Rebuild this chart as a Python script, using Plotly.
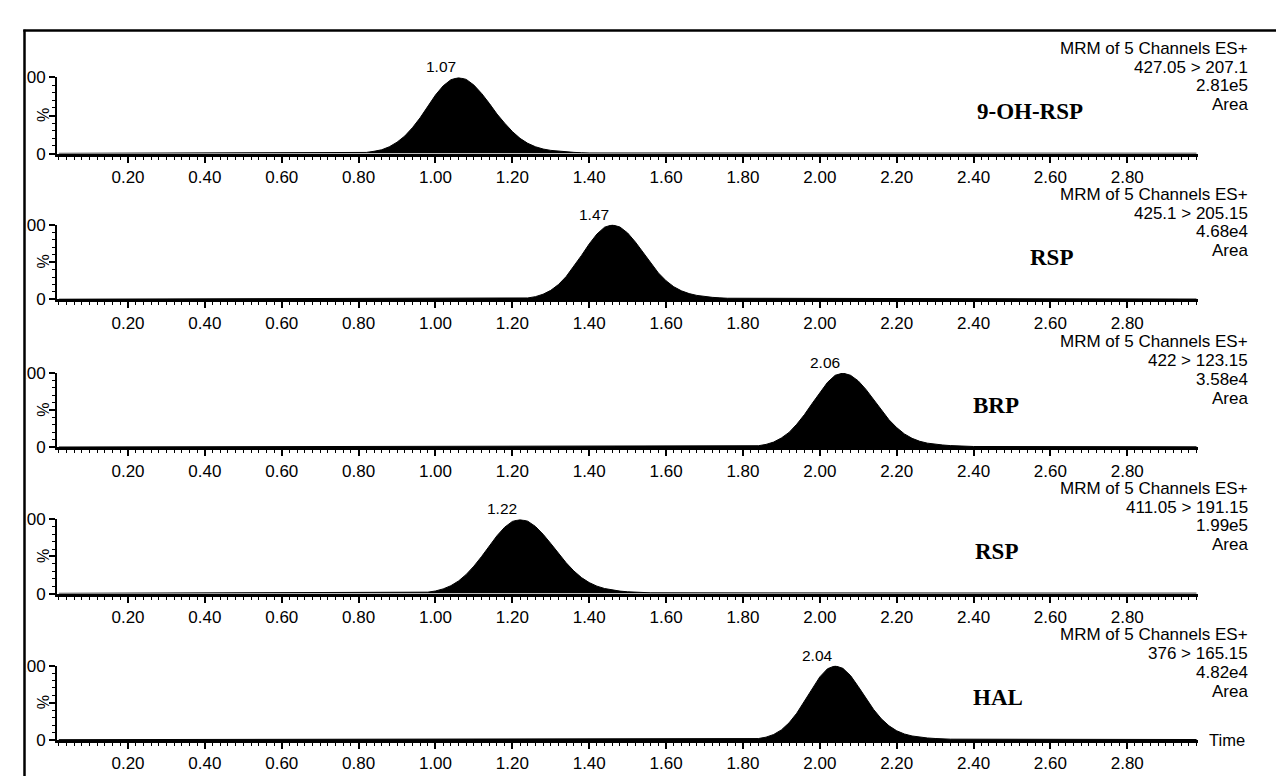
import plotly.graph_objects as go

W, H = 1284, 778

# ---------------- data ----------------
compounds = ["9-OH-RSP", "RSP", "BRP", "RSP", "HAL"]
transitions = ["427.05 > 207.1", "425.1 > 205.15", "422 > 123.15", "411.05 > 191.15", "376 > 165.15"]
abundances = ["2.81e5", "4.68e4", "3.58e4", "1.99e5", "4.82e4"]
peak_labels = ["1.07", "1.47", "2.06", "1.22", "2.04"]
header_text = "MRM of 5 Channels ES+"
area_text = "Area"
x_tick_vals = [0.1, 0.2, 0.3, 0.4, 0.5, 0.6, 0.7, 0.8, 0.9, 1.0, 1.1, 1.2, 1.3, 1.4,
               1.5, 1.6, 1.7, 1.8, 1.9, 2.0, 2.1, 2.2, 2.3, 2.4, 2.5, 2.6, 2.7, 2.8, 2.9]
x_tick_text = ["", "0.20", "", "0.40", "", "0.60", "", "0.80", "", "1.00", "", "1.20", "", "1.40",
               "", "1.60", "", "1.80", "", "2.00", "", "2.20", "", "2.40", "", "2.60", "", "2.80", ""]
y_tick_vals = [0, 50, 100]
y_tick_text = ["0", "", "100"]

t1 = [0.02, 0.80, 0.82, 0.84, 0.86, 0.88, 0.90, 0.92, 0.94, 0.96, 0.98, 1.00, 1.02, 1.04, 1.06,
      1.08, 1.10, 1.12, 1.14, 1.16, 1.18, 1.20, 1.22, 1.24, 1.26, 1.28, 1.30, 1.32, 1.34, 1.36,
      1.38, 1.40, 2.98]
i1 = [0.3, 0.8, 1.5, 3, 5, 9, 15, 23, 34, 47, 62, 77, 89, 97, 100,
      97.5, 90, 79, 66, 52, 40, 29, 20, 13.5, 9, 6, 4.2, 3, 2.2, 1.6,
      1.1, 0.8, 0.4]

t2 = [0.02, 1.22, 1.24, 1.26, 1.28, 1.30, 1.32, 1.34, 1.36, 1.38, 1.40, 1.42, 1.44, 1.46,
      1.48, 1.50, 1.52, 1.54, 1.56, 1.58, 1.60, 1.62, 1.64, 1.66, 1.68, 1.70, 1.72, 1.74, 1.76, 2.98]
i2 = [0.3, 1, 2, 3.7, 7, 12.2, 20, 30.6, 44, 59, 74.4, 87.6, 96.8, 100,
      97, 89, 77, 63, 48.5, 35.5, 25, 17, 11.5, 7.8, 5.4, 3.8, 2.8, 2.1, 1.6, 0.5]

t3 = [0.02, 1.82, 1.84, 1.86, 1.88, 1.90, 1.92, 1.94, 1.96, 1.98, 2.00, 2.02, 2.04, 2.06,
      2.08, 2.10, 2.12, 2.14, 2.16, 2.18, 2.20, 2.22, 2.24, 2.26, 2.28, 2.30, 2.32, 2.34, 2.36,
      2.38, 2.40, 2.98]
i3 = [0.3, 1, 2, 3.8, 7, 12.5, 20, 31, 44, 59, 74, 87.5, 97, 100,
      97, 89.5, 78, 64, 50, 37, 26.5, 18, 12, 8, 5.5, 4, 3, 2.2, 1.7,
      1.3, 1.0, 0.5]

t4 = [0.02, 0.96, 0.98, 1.00, 1.02, 1.04, 1.06, 1.08, 1.10, 1.12, 1.14, 1.16, 1.18, 1.20, 1.22,
      1.24, 1.26, 1.28, 1.30, 1.32, 1.34, 1.36, 1.38, 1.40, 1.42, 1.44, 1.46, 1.48, 1.50, 1.52,
      1.54, 1.56, 2.98]
i4 = [0.3, 1.0, 1.9, 3.5, 6.3, 10.6, 17, 25.8, 37, 50, 64.3, 78, 89.5, 97.3, 100,
      97.6, 90.6, 80, 67.5, 54, 41.5, 30.5, 21.5, 14.8, 10, 6.8, 4.7, 3.3, 2.4, 1.8,
      1.3, 1.0, 0.5]

t5 = [0.02, 1.82, 1.84, 1.86, 1.88, 1.90, 1.92, 1.94, 1.96, 1.98, 2.00, 2.02, 2.04,
      2.06, 2.08, 2.10, 2.12, 2.14, 2.16, 2.18, 2.20, 2.22, 2.24, 2.26, 2.28, 2.30, 2.32, 2.34, 2.98]
i5 = [0.3, 0.9, 1.8, 3.7, 7.3, 13.5, 23, 36, 52, 69, 85, 96, 100,
      96.5, 86.7, 72, 56.5, 41, 28.5, 19, 12.3, 8, 5.3, 3.6, 2.6, 1.9, 1.4, 1.0, 0.5]

times = [t1, t2, t3, t4, t5]
intens = [i1, i2, i3, i4, i5]

# ---------------- layout geometry (pixels) ----------------
axis_y = [140, 289.5, 441, 591, 741]      # pixel row of 0 %
top_y = [62, 213, 365, 515, 665]          # pixel row of 100 %
x_left_px, x_right_px = 49, 1190
x_range = [0.0152, 2.984]


def px(x):
    return x / W


def py(y):
    return 1 - y / H


FONT = "Liberation Sans, Arial, sans-serif"
SERIF = "Liberation Serif, Times New Roman, serif"

fig = go.Figure()
annotations = []
minor_x = [round(0.02 * k, 2) for k in range(1, 150)]
minor_y = [10, 20, 30, 40, 60, 70, 80, 90]

for k in range(5):
    sfx = "" if k == 0 else str(k + 1)
    fig.add_trace(go.Scatter(
        x=times[k], y=intens[k], mode="lines",
        line=dict(color="black", width=1),
        fill="tozeroy", fillcolor="black",
        xaxis="x" + sfx, yaxis="y" + sfx,
        hoverinfo="skip", showlegend=False,
    ))
    fig.layout["xaxis" + sfx] = dict(
        domain=[px(x_left_px), px(x_right_px)], range=x_range, anchor="y" + sfx,
        showline=True, linecolor="black", linewidth=3, showgrid=False, zeroline=False,
        ticks="outside", ticklen=6, tickwidth=1.5, tickcolor="black",
        tickmode="array", tickvals=x_tick_vals, ticktext=x_tick_text,
        tickfont=dict(family=FONT, size=17, color="black"),
        minor=dict(tickmode="array", tickvals=minor_x, ticks="outside", ticklen=3,
                   tickwidth=1, tickcolor="black", showgrid=False),
    )
    fig.layout["yaxis" + sfx] = dict(
        domain=[py(axis_y[k]), py(top_y[k])], range=[0, 100], anchor="x" + sfx,
        showline=True, linecolor="black", linewidth=2, showgrid=False, zeroline=False,
        ticks="outside", ticklen=6, tickwidth=1.5, tickcolor="black",
        tickmode="array", tickvals=y_tick_vals, ticktext=y_tick_text,
        tickfont=dict(family=FONT, size=17, color="black"),
        minor=dict(tickmode="array", tickvals=minor_y, ticks="outside", ticklen=3.5,
                   tickwidth=1, tickcolor="black", showgrid=False),
    )
    # "%" axis label
    annotations.append(dict(xref="paper", yref="paper", x=px(35.5), y=py((axis_y[k] + top_y[k]) / 2),
                            text="%", textangle=-90, showarrow=False,
                            font=dict(family=FONT, size=16, color="black"),
                            xanchor="center", yanchor="middle"))
    # header block (right aligned)
    lines = [header_text, transitions[k], abundances[k], area_text]
    offs = [108, 88.5, 69.5, 50]
    for txt, off in zip(lines, offs):
        annotations.append(dict(xref="paper", yref="paper", x=px(1242), y=py(axis_y[k] - off),
                                text=txt, showarrow=False, xanchor="right", yanchor="middle",
                                font=dict(family=FONT, size=17, color="black")))
    # peak retention-time label
    imax = intens[k].index(max(intens[k]))
    annotations.append(dict(xref="x" + sfx, yref="y" + sfx, x=times[k][imax], y=100,
                            text=peak_labels[k], showarrow=False, xanchor="center",
                            yanchor="bottom", xshift=-18, yshift=0,
                            font=dict(family=FONT, size=15.5, color="black")))

# compound labels
comp_x = [1022, 1043, 988, 988, 990]
for k in range(5):
    annotations.append(dict(xref="paper", yref="paper", x=px(comp_x[k]), y=py(axis_y[k] - 43),
                            text=compounds[k], showarrow=False, xanchor="center", yanchor="middle",
                            font=dict(family=SERIF, size=23, color="black", weight="bold")))

annotations.append(dict(xref="paper", yref="paper", x=px(1199), y=py(axis_y[4]),
                        text="Time", showarrow=False, xanchor="left", yanchor="middle",
                        font=dict(family=FONT, size=16.5, color="black")))

shapes = [
    dict(type="rect", xref="paper", yref="paper", x0=0, x1=px(18.5), y0=0, y1=1,
         fillcolor="white", line=dict(width=0), layer="above"),
    dict(type="line", xref="paper", yref="paper", x0=px(16.5), x1=px(16.5), y0=py(13), y1=0,
         line=dict(color="black", width=2.5), layer="above"),
    dict(type="line", xref="paper", yref="paper", x0=px(15.3), x1=1, y0=py(13.8), y1=py(13.8),
         line=dict(color="black", width=2.5), layer="above"),
]

fig.update_layout(
    width=W, height=H, margin=dict(l=0, r=0, t=0, b=0),
    paper_bgcolor="white", plot_bgcolor="white",
    annotations=annotations, shapes=shapes, showlegend=False,
)

fig.write_html("out.html")
